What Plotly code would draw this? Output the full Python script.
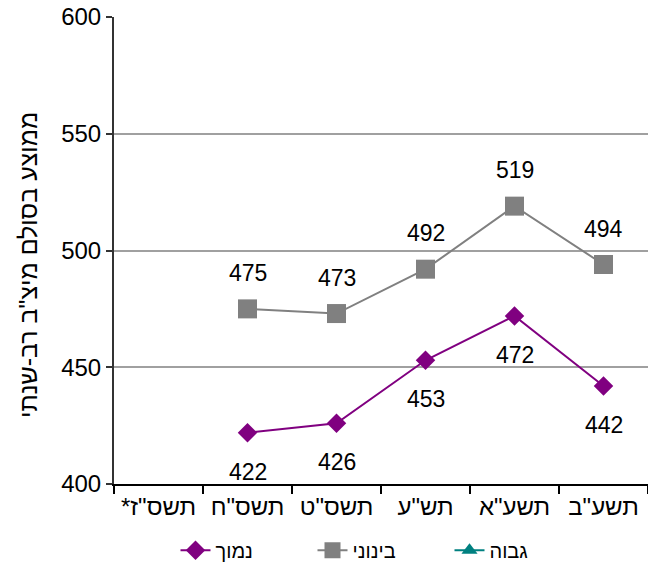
import plotly.graph_objects as go

categories = ['*תשס"ז', 'תשס"ח', 'תשס"ט', 'תש"ע', 'תשע"א', 'תשע"ב']
low_vals = [None, 422, 426, 453, 472, 442]
mid_vals = [None, 475, 473, 492, 519, 494]
high_vals = [None, None, None, None, None, None]
y_ticks = [400, 450, 500, 550, 600]
y_title = 'ממוצע בסולם מיצ"ב רב-שנתי'

font_family = "Liberation Sans, Arial, sans-serif"

fig = go.Figure()
fig.add_trace(go.Scatter(
    x=categories, y=low_vals, name="נמוך", mode="lines+markers",
    line=dict(color="#800080", width=2),
    marker=dict(symbol="diamond", size=15, color="#800080"),
))
fig.add_trace(go.Scatter(
    x=categories, y=mid_vals, name="בינוני", mode="lines+markers",
    line=dict(color="#808080", width=2),
    marker=dict(symbol="square", size=19, color="#808080"),
))
fig.add_trace(go.Scatter(
    x=categories, y=high_vals, name="גבוה", mode="lines+markers",
    line=dict(color="#008080", width=2),
    marker=dict(symbol="triangle-up", size=14, color="#008080"),
))

annotations = []
for cat, v in zip(categories, low_vals):
    if v is not None:
        annotations.append(dict(x=cat, y=v, text=str(v), showarrow=False,
                                yshift=-39, font=dict(size=23, color="black")))
for cat, v in zip(categories, mid_vals):
    if v is not None:
        annotations.append(dict(x=cat, y=v, text=str(v), showarrow=False,
                                yshift=36, font=dict(size=23, color="black")))
annotations.append(dict(x=0, xref="paper", y=0.469, yref="paper", xshift=-86,
                        xanchor="center", yanchor="middle", text=y_title,
                        textangle=-90, showarrow=False,
                        font=dict(size=25, color="black")))

fig.update_layout(
    width=648, height=584,
    margin=dict(l=114, r=0, t=17, b=100, autoexpand=False),
    paper_bgcolor="white", plot_bgcolor="white",
    font=dict(family=font_family, size=20, color="black"),
    showlegend=True,
    annotations=annotations,
    legend=dict(orientation="h", x=0.5, xanchor="center", y=-0.10, yanchor="top",
                font=dict(size=20, color="black"), traceorder="normal",
                entrywidth=92, entrywidthmode="pixels"),
    xaxis=dict(
        type="category", categoryorder="array", categoryarray=categories,
        range=[-0.5, 5.5],
        showline=True, linecolor="black", linewidth=2,
        ticks="outside", ticklen=8, tickcolor="black", tickwidth=2,
        tickson="boundaries", showgrid=False,
        tickfont=dict(size=24, color="black"),
    ),
    yaxis=dict(
        range=[400, 600], tickvals=y_ticks,
        showline=True, linecolor="#333333", linewidth=2,
        ticks="outside", ticklen=6, tickcolor="#333333", tickwidth=2,
        showgrid=True, gridcolor="#a0a0a0", gridwidth=2,
        zeroline=False,
        tickfont=dict(size=24, color="black"),
    ),
)

fig.write_html("out.html", config={"displayModeBar": False},
               post_script="document.body.style.margin='0';")
